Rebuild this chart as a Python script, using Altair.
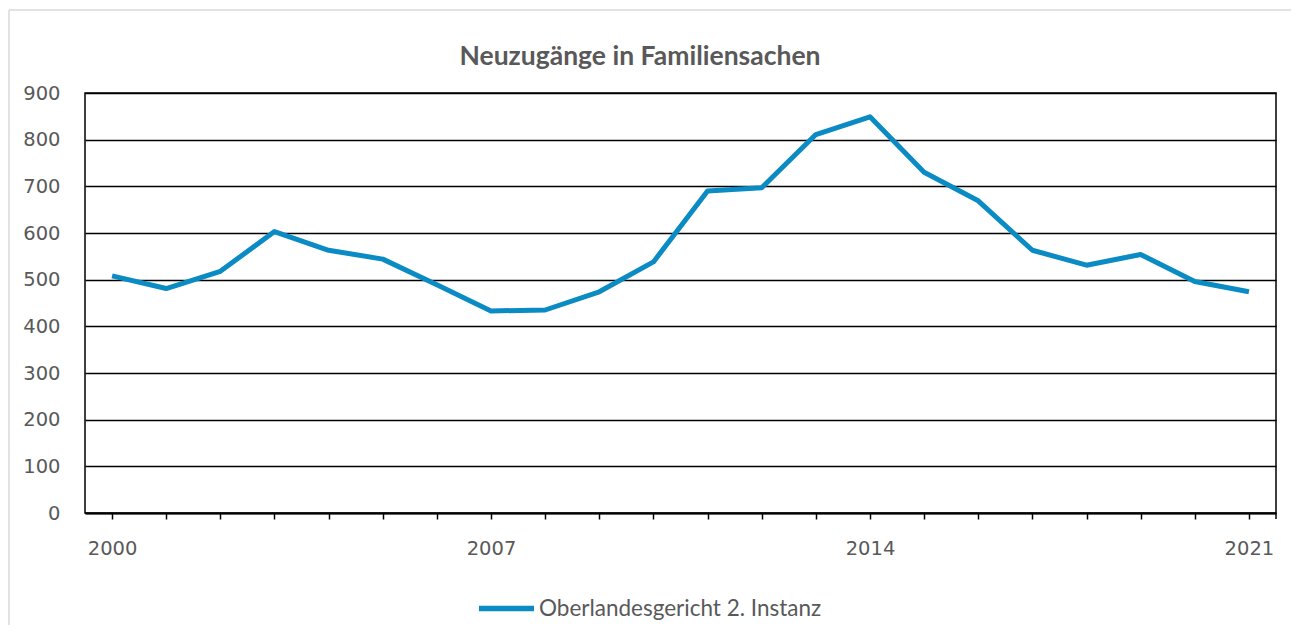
import altair as alt
import pandas as pd

years = [str(y) for y in range(2000, 2022)]
values = [508, 481, 518, 603, 563, 544, 489, 433, 435, 474, 538,
          690, 697, 811, 849, 730, 669, 563, 531, 554, 496, 474]
series_name = "Oberlandesgericht 2. Instanz"
title_text = "Neuzugänge in Familiensachen"
y_ticks = list(range(0, 1000, 100))
x_label_years = ["2000", "2007", "2014", "2021"]

df = pd.DataFrame({"Jahr": years, "Wert": values, "Serie": series_name})
title_df = pd.DataFrame({"t": [title_text]})

W, H = 1191, 420
FONT = "Lato"
NUMFONT = "DejaVu Sans"
GRAY = "#595959"
BLUE = "#0A8BC3"

label_expr = "indexof(" + str(x_label_years).replace("'", '"') + ", datum.label) >= 0 ? datum.label : ''"

line = alt.Chart(df).mark_line(strokeWidth=5, strokeJoin="round").encode(
    x=alt.X("Jahr:O", sort=years, title=None,
            scale=alt.Scale(type="point", padding=0.5),
            axis=alt.Axis(labelExpr=label_expr, labelAngle=0, labelFont=NUMFONT,
                          labelFontSize=19.5, labelColor=GRAY, labelPadding=20,
                          ticks=True, tickSize=6, tickColor="black", tickWidth=1.5,
                          domain=True, domainColor="black", domainWidth=2,
                          grid=False)),
    y=alt.Y("Wert:Q", title=None,
            scale=alt.Scale(domain=[0, 900], nice=False),
            axis=alt.Axis(values=y_ticks, labelFont=NUMFONT, labelFontSize=19.5,
                          labelColor=GRAY, labelPadding=25, ticks=False, tickSize=0,
                          domain=False, grid=True, gridColor="black", gridWidth=1.6)),
    color=alt.Color("Serie:N", scale=alt.Scale(range=[BLUE]),
                    legend=alt.Legend(title=None, orient="none", legendX=391, legendY=485,
                                      symbolType="stroke", symbolSize=3025,
                                      symbolStrokeWidth=5.5, labelFont=FONT,
                                      labelFontSize=22.5, labelColor=GRAY,
                                      labelOffset=2, labelLimit=1000, padding=0)),
)

title = alt.Chart(title_df).mark_text(
    font=FONT, fontSize=26.5, fontWeight="bold", color=GRAY,
    align="center", baseline="alphabetic").encode(
    text="t:N", x=alt.value(555), y=alt.value(-28))

frame_left = alt.Chart(title_df).mark_rule(color="#d9d9d9", strokeWidth=1.5).encode(
    x=alt.value(-76), y=alt.value(-83), y2=alt.value(H + 115))
frame_top = alt.Chart(title_df).mark_rule(color="#d9d9d9", strokeWidth=1.5).encode(
    x=alt.value(-76), x2=alt.value(W + 20), y=alt.value(-83))
edge_tick = alt.Chart(title_df).mark_rule(color="black", strokeWidth=1.5).encode(
    x=alt.value(W), y=alt.value(H), y2=alt.value(H + 6))

chart = alt.layer(frame_left, frame_top, line, edge_tick, title).properties(
    width=W, height=H,
    autosize=alt.AutoSizeParams(type="none"),
    padding={"left": 77, "top": 85, "right": 15, "bottom": 112},
).configure_view(stroke="black", strokeWidth=1.5)

chart.save("out.html", embed_options={"renderer": "svg", "actions": False})
